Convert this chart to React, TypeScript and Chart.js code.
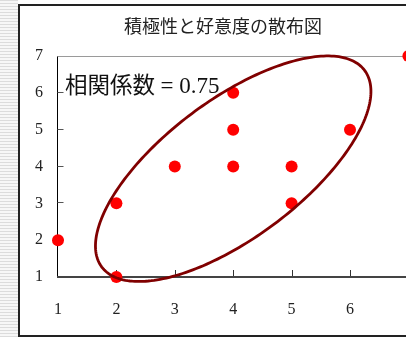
import { useEffect, useRef } from "react";
import { Chart, registerables } from "chart.js";

Chart.register(...registerables);

// Survey scores: assertiveness (x) vs. favourability (y)
const assertiveness = [1, 2, 2, 3, 4, 4, 4, 5, 5, 6, 7];
const favourability = [2, 1, 3, 4, 6, 5, 4, 4, 3, 5, 7];

const xTickValues = [1, 2, 3, 4, 5, 6];
const yTickValues = [1, 2, 3, 4, 5, 6, 7];

const chartTitle = "積極性と好意度の散布図";
const corrCaption = "相関係数";
const corrCoefficient = 0.75;

// Enclosing ellipse in data units: centre plus two conjugate semi-axis vectors
const ellipseCenter = [4.0, 3.94];
const ellipseAxisA = [2.25, 2.67];
const ellipseAxisB = [-0.707, 1.498];

const SERIF = '"Liberation Serif", "Times New Roman", serif';
const GOTHIC = '"Noto Sans CJK JP", "Noto Sans", sans-serif';

const CANVAS_W = 460;
const CANVAS_H = 337;

const framePlugin = {
  id: "frameDecor",
  beforeDatasetsDraw(chart: any) {
    const { ctx, scales } = chart;
    const xs = scales.x;
    const ys = scales.y;
    const x0 = Math.round(xs.getPixelForValue(1)) - 0.5;
    const xEnd = xs.getPixelForValue(7) + 10;
    const yBottom = ys.getPixelForValue(1);
    const yTop = Math.round(ys.getPixelForValue(7)) + 0.5;
    ctx.save();
    // top gridline
    ctx.strokeStyle = "#9a9a9a";
    ctx.lineWidth = 1;
    ctx.beginPath();
    ctx.moveTo(x0, yTop);
    ctx.lineTo(xEnd, yTop);
    ctx.stroke();
    // y axis
    ctx.strokeStyle = "#000";
    ctx.beginPath();
    ctx.moveTo(x0, yTop);
    ctx.lineTo(x0, yBottom);
    ctx.stroke();
    // y ticks (inside)
    ctx.strokeStyle = "#555";
    yTickValues.forEach((v) => {
      if (v === 1 || v === 7) return;
      const py = Math.round(ys.getPixelForValue(v)) - 0.5;
      ctx.beginPath();
      ctx.moveTo(x0, py);
      ctx.lineTo(x0 + 6, py);
      ctx.stroke();
    });
    // x ticks (inside)
    ctx.strokeStyle = "#333";
    xTickValues.forEach((v) => {
      if (v === 1) return;
      const px = Math.round(xs.getPixelForValue(v)) + 0.5;
      ctx.beginPath();
      ctx.moveTo(px, yBottom - 7);
      ctx.lineTo(px, yBottom);
      ctx.stroke();
    });
    // x axis
    ctx.strokeStyle = "#444";
    ctx.lineWidth = 2;
    ctx.beginPath();
    ctx.moveTo(x0 - 0.5, yBottom);
    ctx.lineTo(xEnd, yBottom);
    ctx.stroke();
    ctx.restore();
  },
  afterDatasetsDraw(chart: any) {
    const { ctx, scales } = chart;
    const xs = scales.x;
    const ys = scales.y;
    ctx.save();
    ctx.strokeStyle = "#800000";
    ctx.lineWidth = 2.8;
    ctx.beginPath();
    const steps = 240;
    for (let i = 0; i <= steps; i++) {
      const t = (i / steps) * Math.PI * 2;
      const dx = ellipseCenter[0] + ellipseAxisA[0] * Math.cos(t) + ellipseAxisB[0] * Math.sin(t);
      const dy = ellipseCenter[1] + ellipseAxisA[1] * Math.cos(t) + ellipseAxisB[1] * Math.sin(t);
      const px = xs.getPixelForValue(dx);
      const py = ys.getPixelForValue(dy);
      if (i === 0) ctx.moveTo(px, py);
      else ctx.lineTo(px, py);
    }
    ctx.closePath();
    ctx.stroke();
    ctx.restore();
  },
  afterDraw(chart: any) {
    const { ctx } = chart;
    ctx.save();
    ctx.fillStyle = "#222";
    ctx.font = `18px ${GOTHIC}`;
    ctx.textAlign = "center";
    ctx.textBaseline = "middle";
    ctx.fillText(chartTitle, 223, 26);

    ctx.fillStyle = "#111";
    ctx.textAlign = "left";
    ctx.font = `22.5px ${GOTHIC}`;
    ctx.textBaseline = "middle";
    ctx.fillText(corrCaption, 65, 84.5);
    ctx.font = `23px ${SERIF}`;
    ctx.textBaseline = "alphabetic";
    ctx.fillText(`= ${corrCoefficient.toFixed(2)}`, 160.5, 92.5);
    ctx.restore();
  },
};

export default function App() {
  const canvasRef = useRef<HTMLCanvasElement | null>(null);

  useEffect(() => {
    const canvas = canvasRef.current;
    if (!canvas) return;
    const chart = new Chart(canvas, {
      type: "scatter",
      data: {
        datasets: [
          {
            data: assertiveness.map((x, i) => ({ x, y: favourability[i] })),
            backgroundColor: "#ff0000",
            borderColor: "#ff0000",
            borderWidth: 0,
            pointRadius: 6,
            pointHoverRadius: 6,
            clip: false as any,
          },
        ],
      },
      options: {
        animation: false,
        responsive: false,
        devicePixelRatio: 1,
        events: [],
        layout: {
          padding: { top: 56, left: 0, right: CANVAS_W - 408.4, bottom: 0 },
        },
        plugins: {
          legend: { display: false },
          tooltip: { enabled: false },
          title: { display: false },
        },
        scales: {
          x: {
            type: "linear",
            min: 1,
            max: 7,
            grid: { display: false, drawTicks: false },
            border: { display: false },
            ticks: {
              stepSize: 1,
              padding: 23,
              autoSkip: false,
              maxRotation: 0,
              color: "#222",
              font: { family: SERIF, size: 16 },
              callback: (v: any) => (xTickValues.includes(Number(v)) ? String(v) : ""),
            },
            afterFit: (s: any) => {
              s.height = 60;
            },
          },
          y: {
            type: "linear",
            min: 1,
            max: 7,
            grid: { display: false, drawTicks: false },
            border: { display: false },
            ticks: {
              stepSize: 1,
              padding: 15,
              color: "#222",
              font: { family: SERIF, size: 16 },
              callback: (v: any) => (yTickValues.includes(Number(v)) ? String(v) : ""),
            },
            afterFit: (s: any) => {
              s.width = 58;
            },
          },
        },
      },
      plugins: [framePlugin],
    });
    return () => chart.destroy();
  }, []);

  return (
    <div
      style={{
        position: "fixed",
        left: 0,
        top: 0,
        width: 406,
        height: 337,
        overflow: "hidden",
        background: "#fff",
      }}
    >
      <div
        style={{
          position: "absolute",
          left: 0,
          top: 0,
          width: 18,
          height: 337,
          background:
            "repeating-linear-gradient(to bottom, #dcdcdc 0px, #dcdcdc 1px, #f7f7f7 1px, #f7f7f7 3px)",
        }}
      />
      <div
        style={{
          position: "absolute",
          left: 18,
          top: 4,
          width: 500,
          height: 333,
          boxSizing: "border-box",
          border: "2px solid #222",
        }}
      />
      <canvas
        ref={canvasRef}
        width={CANVAS_W}
        height={CANVAS_H}
        style={{ position: "absolute", left: 0, top: 0, display: "block" }}
      />
    </div>
  );
}
